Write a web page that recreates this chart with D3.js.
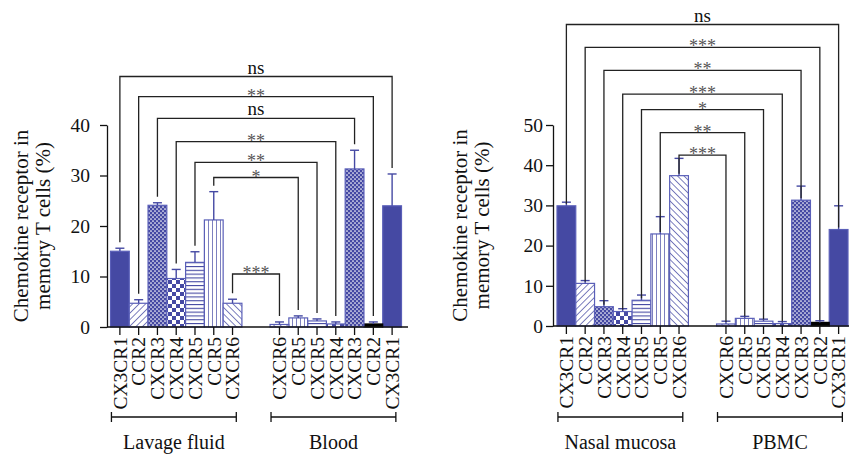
<!DOCTYPE html>
<html lang="en">
<head>
<meta charset="UTF-8">
<title>Chemokine receptors in memory T cells</title>
<script src="https://d3js.org/d3.v7.min.js"></script>
<style>
  body { margin: 0; background: #fff; }
  svg text { fill: #111; }
  .axis path, .axis line { stroke: #111; stroke-width: 1.3px; }
</style>
</head>
<body>
<svg id="chart" width="849" height="457"></svg>
<script>
// receptor order used by every value array below
const receptors = ["CX3CR1", "CCR2", "CXCR3", "CXCR4", "CXCR5", "CCR5", "CXCR6"];

// left panel
const lavageMean = [15.0, 4.7, 24.1, 9.6, 12.8, 21.2, 4.7];
const lavageErr  = [0.6, 0.7, 0.5, 1.8, 2.1, 5.6, 0.8];
const bloodMean  = [24.0, 0.6, 31.3, 0.6, 1.2, 1.8, 0.5];
const bloodErr   = [6.3, 0.4, 3.7, 0.4, 0.4, 0.4, 0.5];
const leftBracketAt  = [49.6, 45.6, 41.3, 36.7, 32.6, 29.6, 10.5];
const leftSig        = ["ns", "**", "ns", "**", "**", "*", "***"];
const leftTicks      = [0, 10, 20, 30, 40];

// right panel
const nasalMean = [29.9, 10.6, 4.8, 3.6, 6.4, 22.9, 37.4];
const nasalErr  = [0.9, 0.7, 1.5, 0.7, 1.3, 4.3, 4.3];
const pbmcMean  = [24.0, 0.9, 31.3, 0.6, 1.2, 1.9, 0.5];
const pbmcErr   = [5.9, 0.4, 3.5, 0.5, 0.5, 0.5, 0.7];
const rightBracketAt = [75.0, 69.3, 63.6, 57.7, 53.8, 48.1, 42.5];
const rightSig       = ["ns", "***", "**", "***", "*", "**", "***"];
const rightTicks     = [0, 10, 20, 30, 40, 50];

const blue = "#4549a3";
const svg = d3.select("#chart");

// pick the first serif face that is really installed
const ctx = document.createElement("canvas").getContext("2d");
function hasFont(name) {
  const probe = "Lavage fluid CX3CR1 0123456789";
  ctx.font = "40px monospace";
  const w0 = ctx.measureText(probe).width;
  ctx.font = `40px "${name}", monospace`;
  return ctx.measureText(probe).width !== w0;
}
const serifFace = ["Liberation Serif", "Times New Roman", "DejaVu Serif", "Noto Serif",
  "FreeSerif", "Nimbus Roman", "Tinos"].find(hasFont);
const fontStack = serifFace ? `"${serifFace}", serif` : "serif";

// fill patterns, one per receptor
const defs = svg.append("defs");
function hatch(id, angle, gap, w) {
  const p = defs.append("pattern").attr("id", id)
    .attr("patternUnits", "userSpaceOnUse")
    .attr("width", gap).attr("height", gap)
    .attr("patternTransform", `rotate(${angle})`);
  p.append("rect").attr("width", gap).attr("height", gap).attr("fill", "#fff");
  p.append("line").attr("x1", 0).attr("x2", 0).attr("y1", 0).attr("y2", gap)
    .attr("stroke", blue).attr("stroke-width", w);
}
hatch("p-ccr2", 45, 4.6, 1.4);
hatch("p-cxcr6", -45, 4.6, 1.4);
hatch("p-ccr5", 0, 4, 1.4);
hatch("p-cxcr5", 90, 3.8, 2.2);

const dots = defs.append("pattern").attr("id", "p-cxcr3")
  .attr("patternUnits", "userSpaceOnUse").attr("width", 4).attr("height", 4);
dots.append("rect").attr("width", 4).attr("height", 4).attr("fill", blue);
dots.append("circle").attr("cx", 1).attr("cy", 1).attr("r", 0.85).attr("fill", "#fff");
dots.append("circle").attr("cx", 3).attr("cy", 3).attr("r", 0.85).attr("fill", "#fff");

const checks = defs.append("pattern").attr("id", "p-cxcr4")
  .attr("patternUnits", "userSpaceOnUse").attr("width", 8).attr("height", 8);
checks.append("rect").attr("width", 8).attr("height", 8).attr("fill", "#fff");
checks.append("rect").attr("width", 4).attr("height", 4).attr("fill", blue);
checks.append("rect").attr("x", 4).attr("y", 4).attr("width", 4).attr("height", 4).attr("fill", blue);

const fills = [blue, "url(#p-ccr2)", "url(#p-cxcr3)", "url(#p-cxcr4)",
               "url(#p-cxcr5)", "url(#p-ccr5)", "url(#p-cxcr6)"];

function drawPanel(cfg) {
  const g = svg.append("g").attr("font-family", fontStack);
  // slot position: group 0 left to right, group 1 mirrored after a gap
  const pos = (grp, r) => grp === 0 ? r : 8.5 + (6 - r);
  const x = d3.scaleLinear().domain([-0.5, 15]).range(cfg.xRange);
  const bw = x(1) - x(0);
  const y = d3.scaleLinear().domain([0, cfg.ticks[cfg.ticks.length - 1]]).range(cfg.yRange);

  // y axis
  const ya = g.append("g").attr("class", "axis")
    .attr("transform", `translate(${cfg.axisX},0)`)
    .call(d3.axisLeft(y).tickValues(cfg.ticks).tickSize(7).tickSizeOuter(0)
      .tickPadding(cfg.tickPad).tickFormat(d3.format("d")));
  ya.attr("font-family", fontStack).attr("font-size", 19.5);

  // y label
  const yl = g.append("text").attr("text-anchor", "middle")
    .attr("transform", `translate(${cfg.labelX},${(cfg.yRange[0] + cfg.yRange[1]) / 2}) rotate(-90)`)
    .style("font-size", "21px");
  yl.append("tspan").attr("x", 0).attr("y", 0).text("Chemokine receptor in");
  yl.append("tspan").attr("x", 0).attr("y", 22).text("memory T cells (%)");

  const rows = [];
  cfg.means.forEach((m, grp) => m.forEach((v, r) => rows.push({
    grp, r, v, e: cfg.errs[grp][r], cx: x(pos(grp, r))
  })));

  // bars
  g.selectAll("rect.bar").data(rows).join("rect").attr("class", "bar")
    .attr("x", d => d.cx - bw / 2).attr("width", bw)
    .attr("y", d => y(d.v)).attr("height", d => y(0) - y(d.v))
    .attr("fill", d => (d.grp === 1 && d.r === 1) ? "#000" : fills[d.r])
    .attr("stroke", d => (d.grp === 1 && d.r === 1) ? "#000" : "#5a5fb8")
    .attr("stroke-width", 1.2);

  // error bars (upper only)
  const eb = g.selectAll("g.err").data(rows).join("g").attr("class", "err")
    .attr("stroke", blue).attr("stroke-width", 1.4);
  eb.append("line").attr("x1", d => d.cx).attr("x2", d => d.cx)
    .attr("y1", d => y(d.v)).attr("y2", d => y(d.v + d.e));
  eb.append("line").attr("x1", d => d.cx - 4.5).attr("x2", d => d.cx + 4.5)
    .attr("y1", d => y(d.v + d.e)).attr("y2", d => y(d.v + d.e));

  // x axis line, ticks and receptor labels
  const base = y(0);
  g.append("line").attr("x1", cfg.axisX).attr("x2", cfg.axisEnd)
    .attr("y1", base).attr("y2", base).attr("stroke", "#111").attr("stroke-width", 1.3);
  g.selectAll("line.xt").data(rows).join("line").attr("class", "xt")
    .attr("x1", d => d.cx).attr("x2", d => d.cx)
    .attr("y1", base).attr("y2", base + 8).attr("stroke", "#111").attr("stroke-width", 1.3);
  g.selectAll("text.xl").data(rows).join("text").attr("class", "xl")
    .attr("text-anchor", "end").attr("dy", "0.35em")
    .attr("transform", d => `translate(${d.cx},${base + 10}) rotate(-90)`)
    .style("font-size", "19.5px")
    .text(d => receptors[d.r]);

  // group brackets and names
  [0, 1].forEach(grp => {
    const xs = receptors.map((_, r) => x(pos(grp, r)));
    const a = d3.min(xs) - bw * 0.45, b = d3.max(xs) + bw * 0.2;
    const gy = 417;
    g.append("path").attr("fill", "none").attr("stroke", "#111").attr("stroke-width", 1.3)
      .attr("d", `M${a},${gy - 5}V${gy + 5}M${a},${gy}H${b}M${b},${gy - 5}V${gy + 5}`);
    g.append("text").attr("x", (a + b) / 2).attr("y", 449).attr("text-anchor", "middle")
      .style("font-size", "20px").text(cfg.groups[grp]);
  });

  // significance brackets
  const legEnd = (grp, r) => {
    const m = cfg.means[grp][r], e = cfg.errs[grp][r];
    return cfg.legTo === "err" ? y(m + e) - 6 : y(m) - 2;
  };
  receptors.forEach((_, r) => {
    const x1 = x(pos(0, r)), x2 = x(pos(1, r)), yb = y(cfg.bracketAt[r]);
    g.append("path").attr("fill", "none").attr("stroke", "#222").attr("stroke-width", 1.3)
      .attr("d", `M${x1},${legEnd(0, r)}V${yb}H${x2}V${legEnd(1, r)}`);
    const ns = cfg.sig[r] === "ns";
    g.append("text").attr("x", (x1 + x2) / 2).attr("y", ns ? yb - 3 : yb + 5)
      .attr("text-anchor", "middle")
      .style("font-size", ns ? "19px" : "18px")
      .style("fill", ns ? "#111" : "#555")
      .text(cfg.sig[r]);
  });
}

drawPanel({
  xRange: [110.5, 401.5], yRange: [327, 125], ticks: leftTicks,
  axisX: 107, axisEnd: 408, tickPad: 10, labelX: 28,
  groups: ["Lavage fluid", "Blood"],
  means: [lavageMean, bloodMean], errs: [lavageErr, bloodErr],
  bracketAt: leftBracketAt, sig: leftSig, legTo: "err"
});

drawPanel({
  xRange: [557, 848], yRange: [326, 125], ticks: rightTicks,
  axisX: 553, axisEnd: 849, tickPad: 3, labelX: 467,
  groups: ["Nasal mucosa", "PBMC"],
  means: [nasalMean, pbmcMean], errs: [nasalErr, pbmcErr],
  bracketAt: rightBracketAt, sig: rightSig, legTo: "bar"
});
</script>
</body>
</html>
